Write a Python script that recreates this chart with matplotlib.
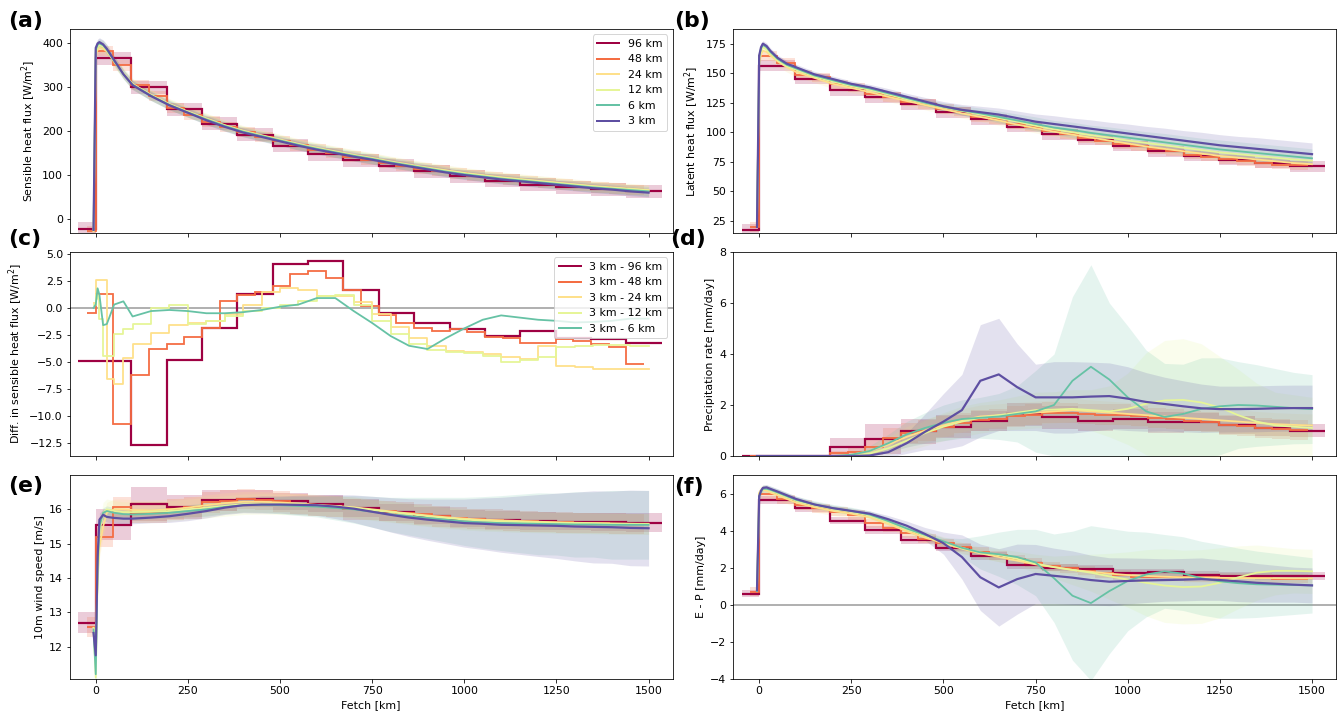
import numpy as np
import matplotlib
matplotlib.use('Agg')
import matplotlib.pyplot as plt
from matplotlib.lines import Line2D

plt.rcParams['font.size'] = 11

# fetch points [km] for the 24, 12, 6 and 3 km runs
fetch = [-6, 0, 5, 10, 20, 30, 50, 75, 100, 150, 200, 250, 300, 350, 400, 450, 500,
         550, 600, 650, 700, 750, 800, 850, 900, 950, 1000, 1050, 1100, 1150, 1200,
         1250, 1300, 1350, 1400, 1450, 1500]

# (a) sensible heat flux [W/m2]
shf_96 = [-23, 366, 300, 250, 217, 192, 167, 147, 134, 121, 109, 97, 87, 78, 72, 68, 63]
shf_48 = [-28, 383, 350, 305, 280, 253, 238, 222, 210, 198, 187, 177, 168, 158, 150, 142,
          135, 128, 121, 115, 110, 104, 99, 94, 90, 86, 82, 78, 75, 72, 69, 66]
shf_24 = [-28, 375, 385, 390, 388, 382, 358, 332, 308, 283, 262, 245, 229, 214, 201, 191, 181,
          171, 162, 154, 146, 139, 131, 124, 117, 111, 105, 100, 95, 91, 87, 83, 79, 75, 72, 69, 66]
shf_12 = [-27, 380, 392, 396, 393, 385, 360, 331, 307, 282, 261, 244, 228, 213, 200, 190, 180,
          170, 161, 153, 145, 138, 130, 123, 116, 110, 104, 99, 94, 90, 86, 82, 78, 74, 71, 68, 65]
shf_6 = [-25, 385, 397, 400, 396, 386, 360, 330, 306, 281, 260, 243, 227, 212, 199, 189, 179,
         169, 160, 152, 144, 137, 129, 122, 115, 108, 102, 97, 92, 88, 84, 80, 76, 72, 69, 66, 63]
shf_3 = [-25, 390, 400, 403, 398, 388, 362, 330, 305, 280, 259, 242, 225, 210, 197, 187, 177,
         167, 158, 150, 142, 135, 127, 120, 113, 106, 100, 95, 90, 86, 82, 78, 74, 70, 67, 63, 60]
shf_sd = [15, 12, 12, 12, 11, 10]

# (b) latent heat flux [W/m2]
lhf_96 = [17.7, 156.4, 145, 135.5, 129.5, 123.6, 117, 111, 104.4, 98.4, 93.4, 88.3, 84, 80,
          76.7, 73.9, 71.3]
lhf_48 = [20, 164.5, 159, 148.7, 146.5, 140.5, 138, 132.3, 130, 126, 124, 119.6, 117.7, 113,
          111, 107, 104.7, 100.7, 98.4, 95, 93, 90, 88.3, 85.5, 83.8, 81.2, 79.5, 77.3, 75.8,
          74, 72.7, 72]
lhf_24 = [22, 158, 166, 169, 168, 165, 160, 155, 151, 146, 141, 137.5, 134, 130, 126.5, 123,
          119.5, 116, 113, 110, 106.5, 103.5, 100.5, 98, 95.5, 93, 90.5, 88, 86, 84, 82, 80,
          78.5, 77, 75.5, 74, 73]
lhf_12 = [22, 162, 169, 172, 170, 167, 161, 156, 153, 147, 143, 139, 136, 132, 128, 124.5, 121,
          118, 115, 112, 109, 105.5, 102.5, 100, 97.5, 95.5, 93, 91, 89, 87, 85, 83, 81.5, 80,
          78.5, 77, 76]
lhf_6 = [21, 164, 171, 174, 172, 168, 162, 157, 154, 148, 144, 140, 137, 133, 129, 125, 121.5,
         118.5, 116, 113, 110, 107, 104, 102, 99.5, 97.5, 95.5, 93.5, 91.5, 89.5, 87.5, 85.5,
         84, 82.5, 81, 79.5, 78]
lhf_3 = [20, 165, 172, 175, 173, 169, 163, 158, 155, 149, 145, 141, 138, 134, 130, 126, 122,
         119, 117, 115, 112, 109, 107, 105, 103, 101, 99, 97, 95, 93, 91, 89, 87.5, 86, 84.5,
         83, 81.5]
lhf_sd12 = [1, 2, 2, 2, 2, 2, 2, 2, 2, 2, 2, 2, 2, 2, 2, 2.5, 3, 3, 3.5, 3.5, 4, 4, 4.5, 4.5,
            5, 5, 5, 5.5, 5.5, 5.5, 6, 6, 6, 6, 6, 6, 6]
lhf_sd6 = [1, 2, 2, 2, 2, 2, 2, 2, 2, 2, 2, 2, 2, 2.5, 2.5, 3, 3.5, 4, 4.5, 5, 5.5, 6, 6, 6.5,
           6.5, 7, 7, 7, 7.5, 7.5, 7.5, 8, 8, 8, 8, 8, 8]
lhf_sd3 = [1, 2, 2, 2.5, 2.5, 2.5, 2.5, 2.5, 2.5, 2.5, 2.5, 2.5, 2.5, 3, 3, 3.5, 4, 4.5, 5,
           5.5, 6, 6.5, 7, 7, 7.5, 7.5, 8, 8, 8.5, 8.5, 9, 9, 9, 9.5, 9.5, 9.5, 9.5]

# (c) 3 km minus coarser run, sensible heat flux [W/m2]
dshf_96 = [-4.95, -4.95, -12.7, -4.85, -1.9, 1.25, 4.05, 4.3, 1.6, -0.45, -1.4, -2.0, -2.6,
           -2.15, -2.8, -2.85, -3.27]
dshf_48 = [-0.45, 1.25, -10.75, -6.2, -3.8, -3.37, -2.72, -1.86, 0.65, 1.2, 1.46, 2.0, 3.15,
           3.35, 2.75, 1.6, 0.17, -0.66, -1.43, -1.86, -2.1, -2.0, -2.27, -2.7, -2.8, -3.2,
           -3.2, -2.9, -3.1, -3.3, -3.65, -5.2]
dshf_24 = [0.45, 2.6, 2.6, 2.6, 2.6, -6.6, -7.0, -4.6, -3.3, -2.3, -1.6, -1.4, -1.2, -0.6,
           0.3, 1.5, 1.8, 1.6, 1.1, 1.1, 0.5, -0.6, -1.8, -2.8, -3.5, -4.0, -4.1, -4.3, -4.5,
           -4.7, -3.5, -5.4, -5.5, -5.6, -5.6, -5.6, -5.65]
dshf_12 = [0.3, 1.2, 0.8, -1.0, -4.4, -4.4, -2.4, -2.0, -1.5, 0.0, 0.25, -1.5, -1.2, -0.8,
           -0.3, 0.0, 0.3, 0.6, 1.1, 1.2, 0.3, -1.2, -2.4, -3.3, -3.9, -4.1, -4.2, -4.4, -5.0,
           -4.8, -4.5, -3.6, -3.5, -3.4, -3.4, -3.5, -3.5]
dshf_6 = [0.0, 0.3, 1.8, 1.2, -1.6, -1.5, 0.3, 0.6, -0.8, -0.3, -0.2, -0.3, -0.5, -0.5, -0.4,
          -0.2, 0.1, 0.3, 0.9, 0.9, -0.3, -1.4, -2.6, -3.5, -3.8, -2.8, -1.9, -1.1, -0.7,
          -0.9, -1.1, -1.2, -1.35, -1.3, -1.2, -1.0, -1.0]

# (d) precipitation rate [mm/day]
pr_96 = [0, 0, 0, 0.35, 0.66, 0.97, 1.15, 1.37, 1.63, 1.52, 1.38, 1.46, 1.32, 1.32, 1.23,
         1.1, 1.0]
pr_sd96 = [0, 0, 0.02, 0.35, 0.6, 0.5, 0.45, 0.4, 0.45, 0.45, 0.4, 0.4, 0.4, 0.35, 0.35,
           0.3, 0.25]
pr_48 = [0, 0, 0, 0, 0, 0.1, 0.15, 0.35, 0.7, 0.9, 1.0, 1.15, 1.3, 1.4, 1.45, 1.55, 1.62,
         1.7, 1.68, 1.65, 1.62, 1.62, 1.58, 1.5, 1.45, 1.38, 1.33, 1.22, 1.18, 1.1, 1.05, 1.03]
pr_sd48 = [0, 0, 0, 0, 0, 0.1, 0.15, 0.3, 0.4, 0.4, 0.4, 0.4, 0.4, 0.4, 0.4, 0.4, 0.4, 0.4,
           0.4, 0.4, 0.4, 0.4, 0.4, 0.4, 0.4, 0.4, 0.4, 0.4, 0.4, 0.4, 0.4, 0.4]
pr_24 = [0, 0, 0, 0, 0, 0, 0, 0, 0, 0, 0, 0.05, 0.2, 0.45, 0.75, 1.0, 1.2, 1.4, 1.55, 1.6,
         1.65, 1.7, 1.75, 1.8, 1.75, 1.7, 1.65, 1.6, 1.55, 1.5, 1.45, 1.4, 1.35, 1.3, 1.25,
         1.22, 1.2]
pr_sd24 = [0, 0, 0, 0, 0, 0, 0, 0, 0, 0, 0, 0.05, 0.15, 0.3, 0.4, 0.45, 0.45, 0.45, 0.45,
           0.45, 0.45, 0.45, 0.45, 0.45, 0.45, 0.45, 0.45, 0.45, 0.45, 0.45, 0.45, 0.45, 0.45,
           0.45, 0.45, 0.45, 0.45]
pr_12 = [0, 0, 0, 0, 0, 0, 0, 0, 0, 0, 0, 0, 0.1, 0.3, 0.6, 0.9, 1.15, 1.35, 1.5, 1.6, 1.7,
         1.8, 1.82, 1.85, 1.8, 1.75, 1.85, 2.05, 2.18, 2.2, 2.1, 1.9, 1.6, 1.35, 1.2, 1.15, 1.1]
pr_6 = [0, 0, 0, 0, 0, 0, 0, 0, 0, 0, 0, 0.05, 0.2, 0.5, 0.85, 1.1, 1.3, 1.45, 1.5, 1.55,
        1.65, 1.75, 2.0, 2.95, 3.5, 3.0, 2.3, 1.75, 1.53, 1.65, 1.85, 1.95, 2.0, 1.98, 1.93,
        1.88, 1.84]
pr_3 = [0, 0, 0, 0, 0, 0, 0, 0, 0, 0, 0, 0, 0.02, 0.15, 0.5, 0.95, 1.35, 1.8, 2.95, 3.2, 2.7,
        2.3, 2.3, 2.3, 2.33, 2.35, 2.25, 2.12, 2.04, 1.95, 1.87, 1.84, 1.84, 1.85, 1.87, 1.88,
        1.88]
pr_sd12 = [0, 0, 0, 0, 0, 0, 0, 0, 0, 0, 0, 0, 0.1, 0.25, 0.4, 0.5, 0.55, 0.6, 0.6, 0.6,
           0.65, 0.7, 0.7, 0.75, 0.8, 1.0, 1.4, 2.0, 2.35, 2.4, 2.3, 2.0, 1.8, 1.5, 1.3, 1.25,
           1.2]
pr_sd6 = [0, 0, 0, 0, 0, 0, 0, 0, 0, 0, 0, 0.05, 0.2, 0.35, 0.5, 0.6, 0.7, 0.75, 0.8, 0.9,
          1.1, 1.6, 2.0, 3.3, 4.0, 3.0, 2.8, 2.4, 2.1, 1.95, 2.0, 1.9, 1.7, 1.6, 1.5, 1.4, 1.35]
pr_sd3 = [0, 0, 0, 0, 0, 0, 0, 0, 0, 0, 0, 0, 0.05, 0.2, 0.4, 0.7, 1.1, 1.4, 2.2, 2.2, 1.7,
          1.3, 1.4, 1.4, 1.35, 1.3, 1.25, 1.15, 1.05, 1.0, 0.95, 0.9, 0.9, 0.9, 0.9, 0.9, 0.9]

# (e) 10 m wind speed [m/s]
ws_96 = [12.7, 15.55, 16.16, 16.07, 16.26, 16.31, 16.23, 16.16, 16.04, 15.92, 15.82, 15.73,
         15.69, 15.66, 15.64, 15.63, 15.61]
ws_sd96 = [0.3, 0.45, 0.5, 0.35, 0.3, 0.25, 0.25, 0.25, 0.25, 0.25, 0.25, 0.25, 0.25, 0.25,
           0.25, 0.27, 0.28]
ws_48 = [12.58, 15.2, 16.07, 15.9, 15.9, 16.0, 16.07, 16.2, 16.25, 16.3, 16.27, 16.23, 16.15,
         16.1, 16.08, 16.0, 15.98, 15.95, 15.9, 15.85, 15.8, 15.76, 15.72, 15.7, 15.67, 15.65,
         15.63, 15.62, 15.6, 15.6, 15.58, 15.57]
ws_24 = [12.55, 12.3, 13.9, 14.9, 15.5, 15.9, 16.0, 16.0, 15.98, 15.97, 16.0, 16.05, 16.12,
         16.18, 16.22, 16.22, 16.2, 16.17, 16.13, 16.1, 16.06, 16.0, 15.94, 15.88, 15.82,
         15.77, 15.73, 15.7, 15.68, 15.66, 15.64, 15.62, 15.61, 15.6, 15.59, 15.58, 15.58]
ws_12 = [12.55, 11.1, 14.0, 15.3, 15.9, 16.0, 15.95, 15.92, 15.92, 15.93, 15.95, 16.0, 16.05,
         16.1, 16.15, 16.16, 16.15, 16.14, 16.12, 16.08, 16.05, 15.98, 15.92, 15.86, 15.8,
         15.75, 15.7, 15.67, 15.65, 15.63, 15.62, 15.61, 15.6, 15.59, 15.58, 15.58, 15.57]
ws_6 = [12.5, 11.2, 14.3, 15.5, 15.9, 15.95, 15.9, 15.86, 15.85, 15.87, 15.9, 15.95, 16.0,
        16.07, 16.12, 16.13, 16.12, 16.1, 16.08, 16.04, 16.0, 15.93, 15.85, 15.8, 15.75, 15.7,
        15.65, 15.62, 15.6, 15.59, 15.58, 15.57, 15.56, 15.56, 15.55, 15.55, 15.55]
ws_3 = [12.4, 11.75, 14.6, 15.7, 15.84, 15.78, 15.75, 15.73, 15.73, 15.76, 15.8, 15.87, 15.95,
        16.05, 16.12, 16.14, 16.14, 16.13, 16.12, 16.08, 16.02, 15.93, 15.84, 15.76, 15.7,
        15.65, 15.6, 15.58, 15.55, 15.54, 15.53, 15.52, 15.5, 15.49, 15.48, 15.46, 15.45]
ws_sd6 = [0.2, 0.4, 0.3, 0.2, 0.15, 0.15, 0.15, 0.15, 0.15, 0.15, 0.15, 0.18, 0.2, 0.2, 0.2,
          0.22, 0.25, 0.28, 0.3, 0.35, 0.4, 0.45, 0.5, 0.55, 0.6, 0.65, 0.7, 0.75, 0.8, 0.85,
          0.9, 0.9, 0.95, 0.95, 1.0, 1.0, 1.0]
ws_sd3 = [0.2, 0.3, 0.3, 0.2, 0.15, 0.15, 0.15, 0.15, 0.15, 0.15, 0.18, 0.2, 0.2, 0.2, 0.22,
          0.25, 0.25, 0.28, 0.3, 0.35, 0.4, 0.45, 0.5, 0.55, 0.6, 0.65, 0.7, 0.75, 0.8, 0.85,
          0.9, 0.95, 1.0, 1.05, 1.05, 1.1, 1.1]

# (f) evaporation minus precipitation [mm/day]
ep_96 = [0.62, 5.69, 5.24, 4.57, 4.06, 3.52, 3.1, 2.65, 2.16, 2.03, 1.96, 1.74, 1.76, 1.62,
         1.58, 1.56, 1.56]
ep_48 = [0.71, 6.0, 5.73, 5.42, 5.24, 5.06, 4.88, 4.42, 4.19, 3.88, 3.6, 3.34, 3.12, 2.88,
         2.7, 2.47, 2.29, 2.1, 1.98, 1.85, 1.71, 1.62, 1.53, 1.53, 1.53, 1.49, 1.49, 1.47,
         1.47, 1.46, 1.43, 1.43]
ep_24 = [0.75, 6.1, 6.2, 6.25, 6.2, 6.1, 5.95, 5.75, 5.55, 5.3, 5.1, 4.95, 4.75, 4.4, 4.0,
         3.65, 3.35, 3.05, 2.8, 2.6, 2.4, 2.2, 2.05, 1.9, 1.8, 1.7, 1.62, 1.57, 1.53, 1.5,
         1.48, 1.47, 1.46, 1.45, 1.45, 1.44, 1.44]
ep_12 = [0.75, 6.0, 6.2, 6.3, 6.3, 6.2, 6.05, 5.85, 5.65, 5.4, 5.2, 5.05, 4.85, 4.5, 4.1,
         3.75, 3.4, 3.1, 2.85, 2.7, 2.5, 2.25, 2.05, 1.9, 1.75, 1.55, 1.38, 1.2, 1.05, 0.97,
         1.0, 1.2, 1.5, 1.75, 1.85, 1.85, 1.82]
ep_6 = [0.75, 5.9, 6.15, 6.3, 6.3, 6.25, 6.1, 5.9, 5.7, 5.45, 5.25, 5.1, 4.9, 4.55, 4.15,
        3.8, 3.45, 3.1, 2.85, 2.75, 2.6, 2.3, 1.45, 0.5, 0.1, 0.75, 1.3, 1.65, 1.82, 1.7,
        1.45, 1.28, 1.18, 1.12, 1.1, 1.08, 1.06]
ep_3 = [0.8, 5.9, 6.2, 6.35, 6.38, 6.3, 6.15, 5.95, 5.75, 5.45, 5.25, 5.1, 4.95, 4.65, 4.3,
        3.85, 3.35, 2.6, 1.5, 0.95, 1.4, 1.68, 1.58, 1.48, 1.35, 1.26, 1.3, 1.33, 1.35, 1.37,
        1.4, 1.35, 1.28, 1.2, 1.15, 1.1, 1.06]
ep_sd12 = [0.1, 0.2, 0.2, 0.2, 0.2, 0.2, 0.2, 0.2, 0.2, 0.2, 0.2, 0.2, 0.2, 0.2, 0.2, 0.25,
           0.3, 0.3, 0.3, 0.35, 0.4, 0.5, 0.6, 0.8, 1.0, 1.25, 1.5, 1.8, 2.0, 2.0, 2.0, 1.9,
           1.7, 1.5, 1.3, 1.2, 1.2]
ep_sd6 = [0.1, 0.2, 0.2, 0.2, 0.2, 0.2, 0.2, 0.2, 0.2, 0.2, 0.2, 0.2, 0.2, 0.2, 0.2, 0.2,
          0.2, 0.5, 0.9, 1.2, 1.5, 1.8, 2.4, 3.5, 4.2, 3.4, 2.7, 2.3, 2.0, 2.0, 2.0, 2.0, 1.9,
          1.8, 1.7, 1.6, 1.5]
ep_sd3 = [0.1, 0.15, 0.15, 0.15, 0.15, 0.15, 0.15, 0.15, 0.15, 0.15, 0.15, 0.15, 0.15, 0.2,
          0.25, 0.35, 0.6, 1.2, 1.8, 2.1, 1.9, 1.6, 1.5, 1.45, 1.35, 1.3, 1.25, 1.2, 1.15,
          1.15, 1.15, 1.1, 1.1, 1.05, 1.0, 0.95, 0.95]

res_labels = ['96 km', '48 km', '24 km', '12 km', '6 km', '3 km']
colors = plt.cm.Spectral(np.linspace(0, 1, 6))

x = np.array(fetch)
edges96 = np.append(-48, np.arange(0, 1537, 96))
edges48 = np.append(-24, np.arange(0, 1489, 48))


def draw(ax, v96, v48, fine, sd=None, steps=()):
    # sd: spreads for 96, 48, 24, 12, 6, 3 km (scalar or array)
    coarse = [(np.array(v96, float), edges96), (np.array(v48, float), edges48)]
    if sd is not None:
        for i, (v, e) in enumerate(coarse):
            s = np.zeros(len(v)) + np.array(sd[i], float)
            ax.stairs(v + s, e, baseline=v - s, fill=True, color=colors[i], alpha=0.2, lw=0)
        for j, v in enumerate(fine):
            v = np.array(v, float)
            s = np.zeros(len(v)) + np.array(sd[j + 2], float)
            ax.fill_between(x, v - s, v + s, color=colors[j + 2], alpha=0.17, lw=0)
    for i, (v, e) in enumerate(coarse):
        ax.stairs(v, e, baseline=None, color=colors[i], lw=2.2 if i == 0 else 1.8)
    for j, v in enumerate(fine):
        ds = 'steps-post' if j in steps else 'default'
        ax.plot(x, v, color=colors[j + 2], lw=2.2 if j == 3 else 1.8, drawstyle=ds)


fig, axes = plt.subplots(3, 2, sharex=True, figsize=(1340 / 72, 719 / 72), dpi=72)
fig.subplots_adjust(left=0.0522, right=0.997, bottom=0.0556, top=0.9597,
                    wspace=0.101, hspace=0.093)

ax = axes[0, 0]
draw(ax, shf_96, shf_48, [shf_24, shf_12, shf_6, shf_3], sd=shf_sd)
ax.set_ylim(-32, 433)
ax.set_yticks([0, 100, 200, 300, 400])
ax.set_ylabel('Sensible heat flux [W/m$^2$]')
handles = [Line2D([], [], color=colors[i], lw=2) for i in range(6)]
ax.legend(handles, res_labels, loc='upper right')

ax = axes[0, 1]
draw(ax, lhf_96, lhf_48, [lhf_24, lhf_12, lhf_6, lhf_3],
     sd=[4.5, 4, 4, lhf_sd12, lhf_sd6, lhf_sd3])
ax.set_ylim(14.8, 187.4)
ax.set_yticks([25, 50, 75, 100, 125, 150, 175])
ax.set_ylabel('Latent heat flux [W/m$^2$]')

ax = axes[1, 0]
ax.axhline(0, color='darkgrey', lw=1.8, zorder=1)
draw(ax, dshf_96, dshf_48, [dshf_24, dshf_12, dshf_6], steps=(0, 1))
ax.set_ylim(-13.67, 5.15)
ax.set_yticks(np.arange(-12.5, 5.1, 2.5))
ax.set_ylabel('Diff. in sensible heat flux [W/m$^2$]')
diff_labels = ['3 km - ' + r for r in res_labels[:5]]
ax.legend(handles[:5], diff_labels, loc='upper right')

ax = axes[1, 1]
draw(ax, pr_96, pr_48, [pr_24, pr_12, pr_6, pr_3],
     sd=[pr_sd96, pr_sd48, pr_sd24, pr_sd12, pr_sd6, pr_sd3])
ax.set_ylim(0, 8)
ax.set_yticks([0, 2, 4, 6, 8])
ax.set_ylabel('Precipitation rate [mm/day]')

ax = axes[2, 0]
draw(ax, ws_96, ws_48, [ws_24, ws_12, ws_6, ws_3],
     sd=[ws_sd96, 0.3, 0.3, 0.3, ws_sd6, ws_sd3])
ax.set_ylim(11.06, 17.0)
ax.set_yticks([12, 13, 14, 15, 16])
ax.set_ylabel('10m wind speed [m/s]')

ax = axes[2, 1]
ax.axhline(0, color='darkgrey', lw=1.8, zorder=1)
draw(ax, ep_96, ep_48, [ep_24, ep_12, ep_6, ep_3],
     sd=[0.2, 0.25, 0.25, ep_sd12, ep_sd6, ep_sd3])
ax.set_ylim(-4.02, 7.05)
ax.set_yticks([-4, -2, 0, 2, 4, 6])
ax.set_ylabel('E - P [mm/day]')

for ax in axes[2]:
    ax.set_xlabel('Fetch [km]')
axes[0, 0].set_xlim(-70, 1565)
axes[0, 0].set_xticks([0, 250, 500, 750, 1000, 1250, 1500])

# panel letters
letters = ['(a)', '(b)', '(c)', '(d)', '(e)', '(f)']
spots = [(8, 21), (674, 21), (8, 239), (670, 239), (8, 486), (674, 487)]
for t, (px, py) in zip(letters, spots):
    fig.text(px / 1340, 1 - py / 719, t, fontsize=22, fontweight='bold', va='center')

fig.savefig('out.png', dpi=72)
